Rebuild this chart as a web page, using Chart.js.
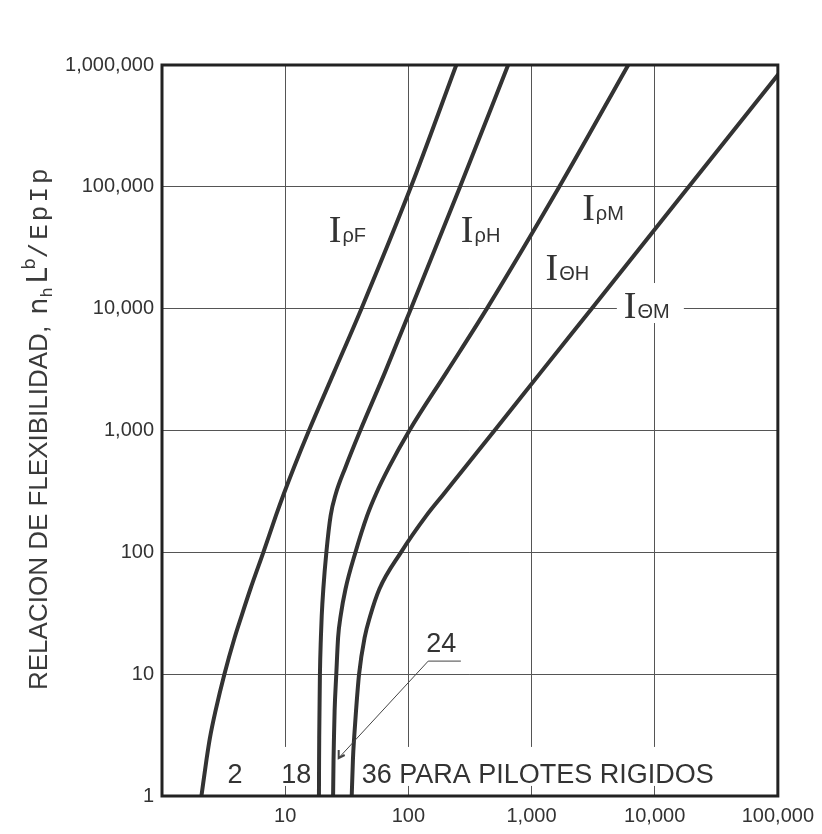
<!DOCTYPE html>
<html>
<head>
<meta charset="utf-8">
<script src="https://cdn.jsdelivr.net/npm/chart.js@4.4.1/dist/chart.umd.min.js"></script>
<style>
  html, body { margin: 0; background: #fff; }
  #wrap { width: 822px; height: 834px; }
</style>
</head>
<body>
<div id="wrap"><canvas id="flexChart"></canvas></div>
<script>
// flexibility ratio (y) and the influence factor of each curve at that ratio (x)
const flexRatio = [1, 2, 3, 5, 10, 20, 30, 50, 100, 200, 300, 500, 1000, 3000, 10000, 100000, 1000000];
const iRhoF   = [2.09, 2.3, 2.45, 2.72, 3.21, 3.89, 4.42, 5.22, 6.65, 8.41, 9.72, 11.8, 15.6, 24.9, 41.6, 105, 245];
const iRhoH   = [18.8, 18.85, 18.9, 19.0, 19.15, 19.5, 19.8, 20.4, 21.6, 23.4, 25.7, 30.9, 40.7, 64.6, 105, 263, 646];
const iRhoM   = [24.5, 24.7, 24.9, 25.2, 26.0, 26.9, 28.2, 30.9, 37.2, 46.3, 54.5, 69.7, 102, 204, 434, 1680, 6100];
const iThetaM = [34.7, 35.5, 36.3, 37.6, 39.8, 44.2, 49.0, 58.2, 87.1, 140, 193, 289, 501, 1189, 3076, 18900, 116000];

const xTicks = [1, 10, 100, 1000, 10000, 100000];
const yTicks = [1, 10, 100, 1000, 10000, 100000, 1000000];

// curve names, anchored in data units
const curveLabels = [
  { sub: 'ρF', x: 22.6, y: 35200 },
  { sub: 'ρH', x: 267,  y: 35200 },
  { sub: 'ρM', x: 2580, y: 53400 },
  { sub: 'ΘH', x: 1300, y: 17200 },
  { sub: 'ΘM', x: 5620, y: 8380, box: true }
];
const footLabels = [
  { text: '2',  x: 3.4 },
  { text: '18', x: 9.3, box: true },
  { text: '36 PARA PILOTES RIGIDOS', x: 41.8, box: true }
];
const footY = 1.28;
const label24 = { text: '24', x: 140, y: 15.2 };
const leader24 = [ { x: 267, y: 12.8 }, { x: 145, y: 12.8 }, { x: 27.2, y: 2.05 } ];

function toPoints(xs) {
  return flexRatio.map((y, i) => ({ x: xs[i], y: y }));
}

const ink = '#333';

const annotations = {
  id: 'annotations',
  beforeDatasetsDraw(chart) {
    const ctx = chart.ctx, xs = chart.scales.x, ys = chart.scales.y;
    ctx.save();
    ctx.fillStyle = '#fff';
    // white backing behind texts that break the grid
    ctx.font = '27px "Liberation Sans", Arial, sans-serif';
    const by = ys.getPixelForValue(footY);
    footLabels.forEach(l => {
      if (!l.box) return;
      const px = xs.getPixelForValue(l.x);
      const w = ctx.measureText(l.text).width;
      ctx.fillRect(px - 4, by - 36, w + 8, 39);
    });
    curveLabels.forEach(l => {
      if (!l.box) return;
      const px = xs.getPixelForValue(l.x), py = ys.getPixelForValue(l.y);
      ctx.fillRect(px - 7, py - 35, 67, 40);
    });
    ctx.restore();
  },
  afterDatasetsDraw(chart) {
    const ctx = chart.ctx, xs = chart.scales.x, ys = chart.scales.y;
    const a = chart.chartArea;
    ctx.save();
    // frame
    ctx.strokeStyle = '#222';
    ctx.lineWidth = 3;
    ctx.strokeRect(a.left, a.top, a.right - a.left, a.bottom - a.top);

    ctx.fillStyle = ink;
    ctx.textBaseline = 'alphabetic';
    curveLabels.forEach(l => {
      const px = xs.getPixelForValue(l.x), py = ys.getPixelForValue(l.y);
      ctx.font = '38px "Liberation Serif", serif';
      ctx.fillText('I', px, py);
      const w = ctx.measureText('I').width;
      ctx.font = '20px "Liberation Sans", Arial, sans-serif';
      ctx.fillText(l.sub, px + w + 1, py);
    });

    ctx.font = '27px "Liberation Sans", Arial, sans-serif';
    const by = ys.getPixelForValue(footY);
    footLabels.forEach(l => ctx.fillText(l.text, xs.getPixelForValue(l.x), by));
    ctx.fillText(label24.text, xs.getPixelForValue(label24.x), ys.getPixelForValue(label24.y));

    // leader from "24" to its curve
    ctx.strokeStyle = '#444';
    ctx.lineWidth = 1;
    ctx.beginPath();
    leader24.forEach((p, i) => {
      const px = xs.getPixelForValue(p.x), py = ys.getPixelForValue(p.y);
      if (i === 0) ctx.moveTo(px, py); else ctx.lineTo(px, py);
    });
    ctx.stroke();
    const end = leader24[leader24.length - 1];
    const ex = xs.getPixelForValue(end.x), ey = ys.getPixelForValue(end.y);
    ctx.lineWidth = 2;
    ctx.beginPath();
    ctx.moveTo(ex, ey - 8);
    ctx.lineTo(ex, ey);
    ctx.lineTo(ex + 6, ey - 3);
    ctx.stroke();

    // y axis title, rotated
    ctx.translate(40, 690);
    ctx.rotate(-Math.PI / 2);
    ctx.textBaseline = 'middle';
    ctx.fillStyle = '#3a3a3a';
    let u = 0;
    const part = (txt, font, dy, gap) => {
      ctx.font = font;
      ctx.fillText(txt, u, dy);
      u += ctx.measureText(txt).width + (gap || 0);
    };
    part('RELACION DE FLEXIBILIDAD, ', '26px "Liberation Sans", Arial, sans-serif', 0, 4);
    part('n', '27px "DejaVu Sans", sans-serif', 0, 0);
    part('h', '16px "DejaVu Sans", sans-serif', 8, 4);
    part('L', '28px "DejaVu Sans", sans-serif', 0, -2);
    part('b', '18px "DejaVu Sans", sans-serif', -10, 0);
    ctx.letterSpacing = '3px';
    part('/EpIp', '26px "Liberation Mono", monospace', 0, 0);
    ctx.restore();
  }
};

const commonGrid = { color: '#555', lineWidth: 1, drawTicks: false };
const tickFont = { family: '"Liberation Sans", Arial, sans-serif', size: 20 };

new Chart(document.getElementById('flexChart'), {
  type: 'scatter',
  data: {
    datasets: [
      { label: 'IρF', data: toPoints(iRhoF) },
      { label: 'IρH', data: toPoints(iRhoH) },
      { label: 'IρM = IΘH', data: toPoints(iRhoM) },
      { label: 'IΘM', data: toPoints(iThetaM) }
    ].map(d => Object.assign(d, {
      showLine: true,
      borderColor: ink,
      borderWidth: 4,
      pointRadius: 0,
      cubicInterpolationMode: 'monotone'
    }))
  },
  options: {
    responsive: true,
    maintainAspectRatio: false,
    animation: false,
    layout: { padding: { top: 65, right: 40, left: 0, bottom: 0 } },
    plugins: { legend: { display: false }, tooltip: { enabled: false } },
    scales: {
      x: {
        type: 'logarithmic',
        min: 1, max: 100000,
        afterBuildTicks: s => { s.ticks = xTicks.map(v => ({ value: v })); },
        afterFit: s => { s.height = 38; },
        grid: commonGrid,
        border: { display: false },
        ticks: {
          autoSkip: false, maxRotation: 0, padding: 8, color: ink, font: tickFont,
          callback: v => v === 1 ? '' : Number(v).toLocaleString('en-US')
        }
      },
      y: {
        type: 'logarithmic',
        min: 1, max: 1000000,
        afterBuildTicks: s => { s.ticks = yTicks.map(v => ({ value: v })); },
        afterFit: s => { s.width = 162; },
        grid: commonGrid,
        border: { display: false },
        ticks: {
          autoSkip: false, padding: 8, color: ink, font: tickFont,
          callback: v => Number(v).toLocaleString('en-US')
        }
      }
    }
  },
  plugins: [annotations]
});
</script>
</body>
</html>
